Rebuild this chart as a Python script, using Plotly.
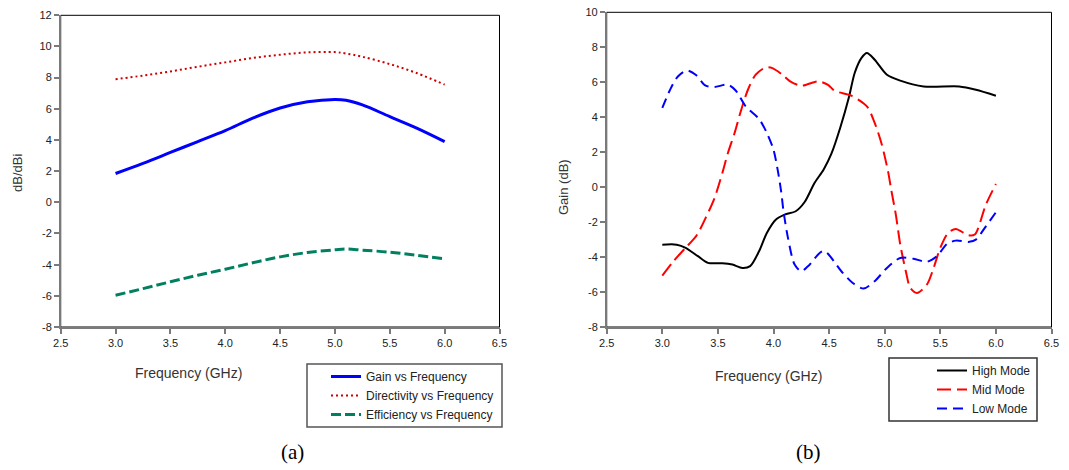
import plotly.graph_objects as go

# ---------- (a) data ----------
freq_a = [3.0, 3.25, 3.5, 3.75, 4.0, 4.25, 4.5, 4.75, 5.0, 5.1, 5.25, 5.5, 5.75, 6.0]
gain = [1.85, 2.5, 3.2, 3.9, 4.6, 5.4, 6.05, 6.45, 6.6, 6.55, 6.25, 5.5, 4.75, 3.9]
directivity = [7.9, 8.13, 8.4, 8.7, 8.98, 9.26, 9.47, 9.62, 9.64, 9.55, 9.34, 8.87, 8.28, 7.55]
efficiency = [-5.96, -5.54, -5.1, -4.68, -4.29, -3.88, -3.5, -3.22, -3.05, -3.0, -3.07, -3.2, -3.41, -3.63]

# ---------- (b) data ----------
high_f = [3.0, 3.13, 3.21, 3.32, 3.41, 3.54, 3.63, 3.72, 3.79, 3.87, 3.94, 4.02, 4.10, 4.20,
          4.28, 4.37, 4.45, 4.52, 4.60, 4.68, 4.73, 4.79, 4.84, 4.91, 5.02, 5.14, 5.35, 5.67, 5.82, 6.0]
high = [-3.29, -3.29, -3.47, -3.95, -4.33, -4.35, -4.43, -4.62, -4.52, -3.67, -2.62, -1.86, -1.57, -1.38,
        -0.85, 0.25, 1.0, 1.9, 3.4, 5.19, 6.53, 7.38, 7.67, 7.29, 6.43, 6.09, 5.76, 5.76, 5.57, 5.23]

mid_f = [3.0, 3.1, 3.21, 3.31, 3.39, 3.47, 3.54, 3.59, 3.65, 3.71, 3.77, 3.84, 3.93, 3.99, 4.08,
         4.15, 4.25, 4.40, 4.49, 4.55, 4.70, 4.84, 4.91, 4.97, 5.03, 5.06, 5.10, 5.14, 5.19, 5.23,
         5.29, 5.38, 5.44, 5.50, 5.57, 5.64, 5.75, 5.81, 5.91, 6.0]
mid = [-5.06, -4.24, -3.47, -2.75, -1.76, -0.62, 0.81, 1.95, 3.1, 4.43, 5.57, 6.43, 6.85, 6.81, 6.43,
       6.05, 5.8, 6.05, 5.85, 5.51, 5.23, 4.62, 3.67, 2.53, 0.9, -0.2, -1.57, -3.29, -4.81, -5.76,
       -6.05, -5.57, -4.62, -3.47, -2.62, -2.39, -2.75, -2.71, -1.0, 0.18]

low_f = [3.0, 3.07, 3.14, 3.22, 3.30, 3.39, 3.47, 3.59, 3.66, 3.75, 3.87, 3.94, 4.0, 4.04, 4.07,
         4.09, 4.13, 4.19, 4.25, 4.31, 4.45, 4.61, 4.71, 4.81, 4.91, 5.02, 5.14, 5.26, 5.38, 5.47,
         5.56, 5.64, 5.76, 5.82, 5.91, 6.0]
low = [4.53, 5.57, 6.33, 6.67, 6.43, 5.8, 5.73, 5.86, 5.53, 4.62, 3.9, 3.1, 2.14, 0.9, -0.3,
       -1.38, -2.9, -4.43, -4.81, -4.53, -3.65, -4.81, -5.47, -5.8, -5.38, -4.62, -4.05, -4.1, -4.27, -3.95,
       -3.25, -3.06, -3.13, -3.0, -2.24, -1.44]

x_ticks = [2.5, 3.0, 3.5, 4.0, 4.5, 5.0, 5.5, 6.0, 6.5]
y_ticks_a = [-8, -6, -4, -2, 0, 2, 4, 6, 8, 10, 12]
y_ticks_b = [-8, -6, -4, -2, 0, 2, 4, 6, 8, 10]

W, H = 1069, 470
FONT = "Liberation Sans, Arial, sans-serif"

fig = go.Figure()

fig.add_trace(go.Scatter(x=freq_a, y=gain, name="Gain vs Frequency", mode="lines",
                         line=dict(color="#0000FF", width=3, shape="spline"),
                         xaxis="x", yaxis="y", legend="legend"))
fig.add_trace(go.Scatter(x=freq_a, y=directivity, name="Directivity vs Frequency", mode="lines",
                         line=dict(color="#CC0000", width=2, dash="2px,3px", shape="spline"),
                         xaxis="x", yaxis="y", legend="legend"))
fig.add_trace(go.Scatter(x=freq_a, y=efficiency, name="Efficiency vs Frequency", mode="lines",
                         line=dict(color="#008060", width=3, dash="10px,4px", shape="spline"),
                         xaxis="x", yaxis="y", legend="legend"))

fig.add_trace(go.Scatter(x=high_f, y=high, name="High Mode", mode="lines",
                         line=dict(color="#000000", width=2, shape="spline", smoothing=0.8),
                         xaxis="x2", yaxis="y2", legend="legend2"))
fig.add_trace(go.Scatter(x=mid_f, y=mid, name="Mid Mode", mode="lines",
                         line=dict(color="#FF0000", width=2, dash="14px,6px", shape="spline", smoothing=0.8),
                         xaxis="x2", yaxis="y2", legend="legend2"))
fig.add_trace(go.Scatter(x=low_f, y=low, name="Low Mode", mode="lines",
                         line=dict(color="#0000FF", width=2, dash="10px,6px", shape="spline", smoothing=0.8),
                         xaxis="x2", yaxis="y2", legend="legend2"))

ax_common = dict(showline=True, linecolor="#7a7a7a", linewidth=1.5, ticks="outside", ticklen=5,
                 tickcolor="#7a7a7a", tickwidth=1.5, showgrid=False, zeroline=False, automargin=False,
                 tickfont=dict(family=FONT, size=11, color="#222222"))

xa_dom = [60.7 / W, 499.5 / W]
xb_dom = [606.7 / W, 1051.5 / W]
ya_dom = [1 - 327 / H, 1 - 15.3 / H]
yb_dom = [1 - 327 / H, 1 - 12.3 / H]

x_text = [f"{v:.1f}" for v in x_ticks]
ya_text = [str(v) for v in y_ticks_a]
yb_text = [str(v) for v in y_ticks_b]

fig.update_layout(
    width=W, height=H, autosize=False,
    margin=dict(l=0, r=0, t=0, b=0),
    paper_bgcolor="white", plot_bgcolor="white",
    font=dict(family=FONT, size=11, color="#222222"),
    xaxis=dict(domain=xa_dom, anchor="y", range=[2.5, 6.5], tickvals=x_ticks, ticktext=x_text, **ax_common),
    yaxis=dict(domain=ya_dom, anchor="x", range=[-8, 12], tickvals=y_ticks_a, ticktext=ya_text, **ax_common),
    xaxis2=dict(domain=xb_dom, anchor="y2", range=[2.5, 6.5], tickvals=x_ticks, ticktext=x_text, **ax_common),
    yaxis2=dict(domain=yb_dom, anchor="x2", range=[-8, 10], tickvals=y_ticks_b, ticktext=yb_text, **ax_common),
    legend=dict(x=326 / W, xanchor="left", y=1 - 395.5 / H, yanchor="middle",
                bgcolor="rgba(0,0,0,0)", borderwidth=0, tracegroupgap=0,
                font=dict(family=FONT, size=12, color="#222222")),
    legend2=dict(x=932 / W, xanchor="left", y=1 - 389.5 / H, yanchor="middle",
                 bgcolor="rgba(0,0,0,0)", borderwidth=0, tracegroupgap=0,
                 font=dict(family=FONT, size=12, color="#222222")),
    showlegend=True,
)

# plot-area frames (top/right borders) and legend frames
for xr, yr in (("x domain", "y domain"), ("x2 domain", "y2 domain")):
    fig.add_shape(type="rect", xref=xr, yref=yr, x0=0, x1=1, y0=0, y1=1,
                  line=dict(color="#000000", width=1), layer="below")
fig.add_shape(type="rect", xref="paper", yref="paper", x0=307 / W, x1=502 / W,
              y0=1 - 427 / H, y1=1 - 364 / H, line=dict(color="#555555", width=1.5), layer="below")
fig.add_shape(type="rect", xref="paper", yref="paper", x0=889 / W, x1=1037 / W,
              y0=1 - 421 / H, y1=1 - 358 / H, line=dict(color="#333333", width=1.5), layer="below")

annos = [
    dict(text="Frequency (GHz)", x=188 / W, y=1 - 373 / H, size=14),
    dict(text="Frequency (GHz)", x=768 / W, y=1 - 376 / H, size=14),
    dict(text="dB/dBi", x=18 / W, y=1 - 173 / H, size=13, angle=-90),
    dict(text="Gain (dB)", x=563 / W, y=1 - 187 / H, size=13, angle=-90),
]
for a in annos:
    fig.add_annotation(text=a["text"], xref="paper", yref="paper", x=a["x"], y=a["y"],
                       xanchor="center", yanchor="middle", showarrow=False,
                       textangle=a.get("angle", 0),
                       font=dict(family=FONT, size=a["size"], color="#333333"))

for txt, cx in (("(a)", 292), ("(b)", 808)):
    fig.add_annotation(text=txt, xref="paper", yref="paper", x=cx / W, y=1 - 452 / H,
                       xanchor="center", yanchor="middle", showarrow=False,
                       font=dict(family="Liberation Serif, Times New Roman, serif", size=21, color="#000000"))

fig.write_html("out.html", config={"displayModeBar": False},
               post_script="document.body.style.margin='0';document.body.style.overflow='hidden';")
